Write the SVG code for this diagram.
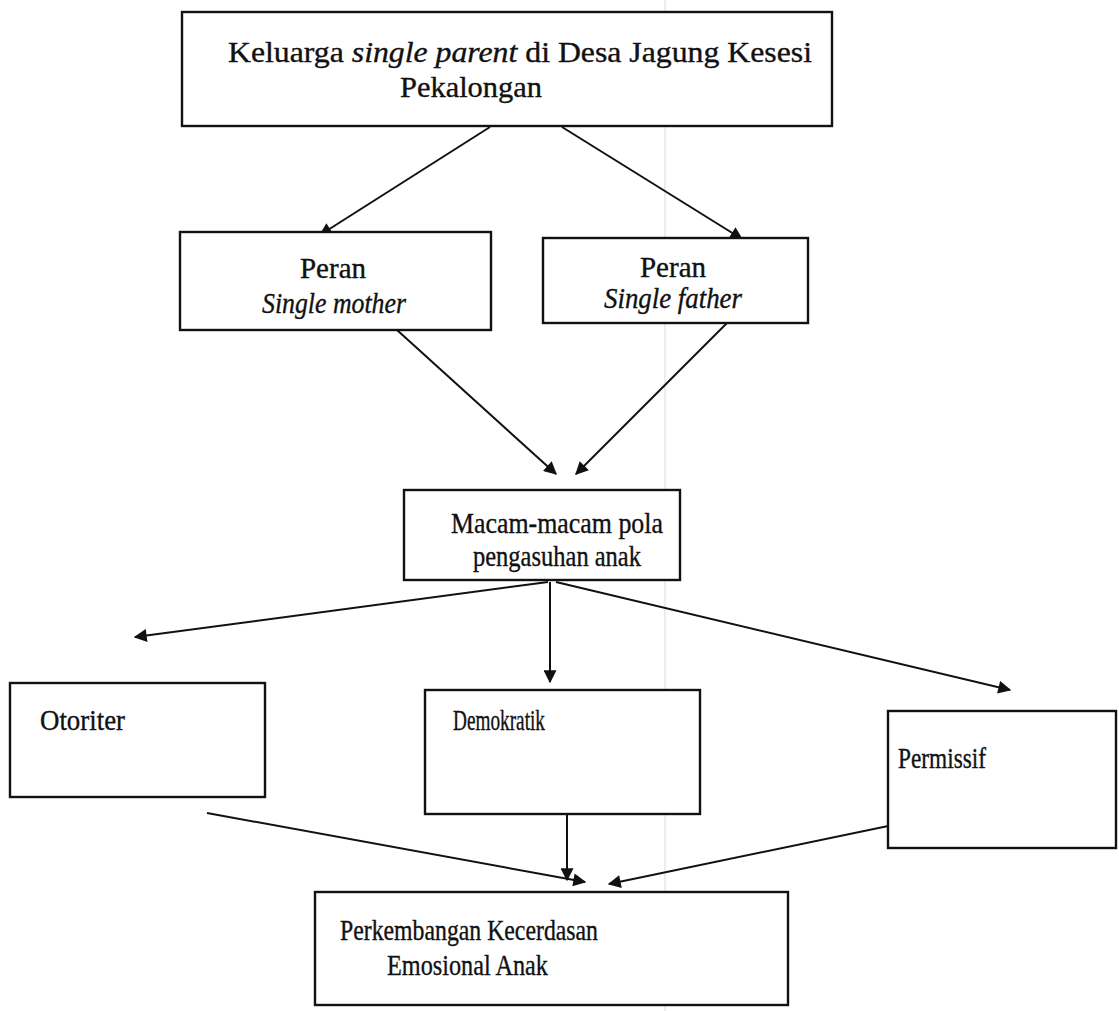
<svg xmlns="http://www.w3.org/2000/svg" width="1119" height="1011" viewBox="0 0 1119 1011">
<style>
.box{fill:#fff;stroke:#111;stroke-width:2.4}
.t{font-family:"Liberation Serif","Times New Roman",serif;fill:#111;stroke:#111;stroke-width:0.35;font-size:29px}
.i{font-style:italic}
.c{stroke:#111;stroke-width:2;fill:none;marker-end:url(#ah)}
</style>
<defs>
<marker id="ah" viewBox="0 0 10 10" refX="9" refY="5" markerWidth="17" markerHeight="13" markerUnits="userSpaceOnUse" orient="auto">
<path d="M0,0 L10,5 L0,10 z" fill="#111"/>
</marker>
</defs>
<rect width="1119" height="1011" fill="#fff"/>
<line x1="665" y1="0" x2="665" y2="1011" stroke="#e6e6e6" stroke-width="1.5"/>
<g id="connectors">
<line class="c" x1="490" y1="127" x2="320" y2="235"/>
<line class="c" x1="562" y1="127" x2="742" y2="239"/>
<line class="c" x1="397" y1="330" x2="556" y2="474"/>
<line class="c" x1="727" y1="323" x2="576" y2="474"/>
<line class="c" x1="548" y1="582" x2="135" y2="637"/>
<line class="c" x1="550" y1="582" x2="550" y2="682"/>
<line class="c" x1="556" y1="582" x2="1010" y2="690"/>
<line class="c" x1="207" y1="813" x2="585" y2="882"/>
<line class="c" x1="567" y1="815" x2="567" y2="880"/>
<line class="c" x1="917" y1="820" x2="609" y2="884"/>
</g>
<g id="node-keluarga">
<rect class="box" x="182" y="12" width="650" height="114"/>
<text class="t" x="228" y="62" textLength="584" lengthAdjust="spacingAndGlyphs">Keluarga <tspan class="i">single parent</tspan> di Desa Jagung Kesesi</text>
<text class="t" x="400" y="97" textLength="142" lengthAdjust="spacingAndGlyphs">Pekalongan</text>
</g>
<g id="node-mother">
<rect class="box" x="180" y="232" width="311" height="98"/>
<text class="t" x="333" y="278" text-anchor="middle" textLength="66" lengthAdjust="spacingAndGlyphs">Peran</text>
<text class="t i" x="334" y="313" text-anchor="middle" textLength="144" lengthAdjust="spacingAndGlyphs">Single mother</text>
</g>
<g id="node-father">
<rect class="box" x="543" y="238" width="265" height="85"/>
<text class="t" x="673" y="277" text-anchor="middle" textLength="66" lengthAdjust="spacingAndGlyphs" font-size="27">Peran</text>
<text class="t i" x="673" y="308" text-anchor="middle" textLength="138" lengthAdjust="spacingAndGlyphs" font-size="27">Single father</text>
</g>
<g id="node-pola">
<rect class="box" x="404" y="490" width="276" height="90"/>
<text class="t" x="557" y="533" text-anchor="middle" textLength="212" lengthAdjust="spacingAndGlyphs">Macam-macam pola</text>
<text class="t" x="557" y="566" text-anchor="middle" textLength="168" lengthAdjust="spacingAndGlyphs">pengasuhan anak</text>
</g>
<g id="node-otoriter">
<rect class="box" x="10" y="683" width="255" height="114"/>
<text class="t" x="40" y="730" textLength="85" lengthAdjust="spacingAndGlyphs" stroke-width="0.8">Otoriter</text>
</g>
<g id="node-demokratik">
<rect class="box" x="425" y="690" width="275" height="124"/>
<text class="t" x="453" y="730" textLength="92" lengthAdjust="spacingAndGlyphs">Demokratik</text>
</g>
<g id="node-permissif">
<rect class="box" x="888" y="711" width="228" height="137"/>
<text class="t" x="898" y="768" textLength="88" lengthAdjust="spacingAndGlyphs">Permissif</text>
</g>
<g id="node-perkembangan">
<rect class="box" x="315" y="892" width="473" height="113"/>
<text class="t" x="340" y="940" textLength="258" lengthAdjust="spacingAndGlyphs">Perkembangan Kecerdasan</text>
<text class="t" x="387" y="975" textLength="161" lengthAdjust="spacingAndGlyphs">Emosional Anak</text>
</g>
</svg>
